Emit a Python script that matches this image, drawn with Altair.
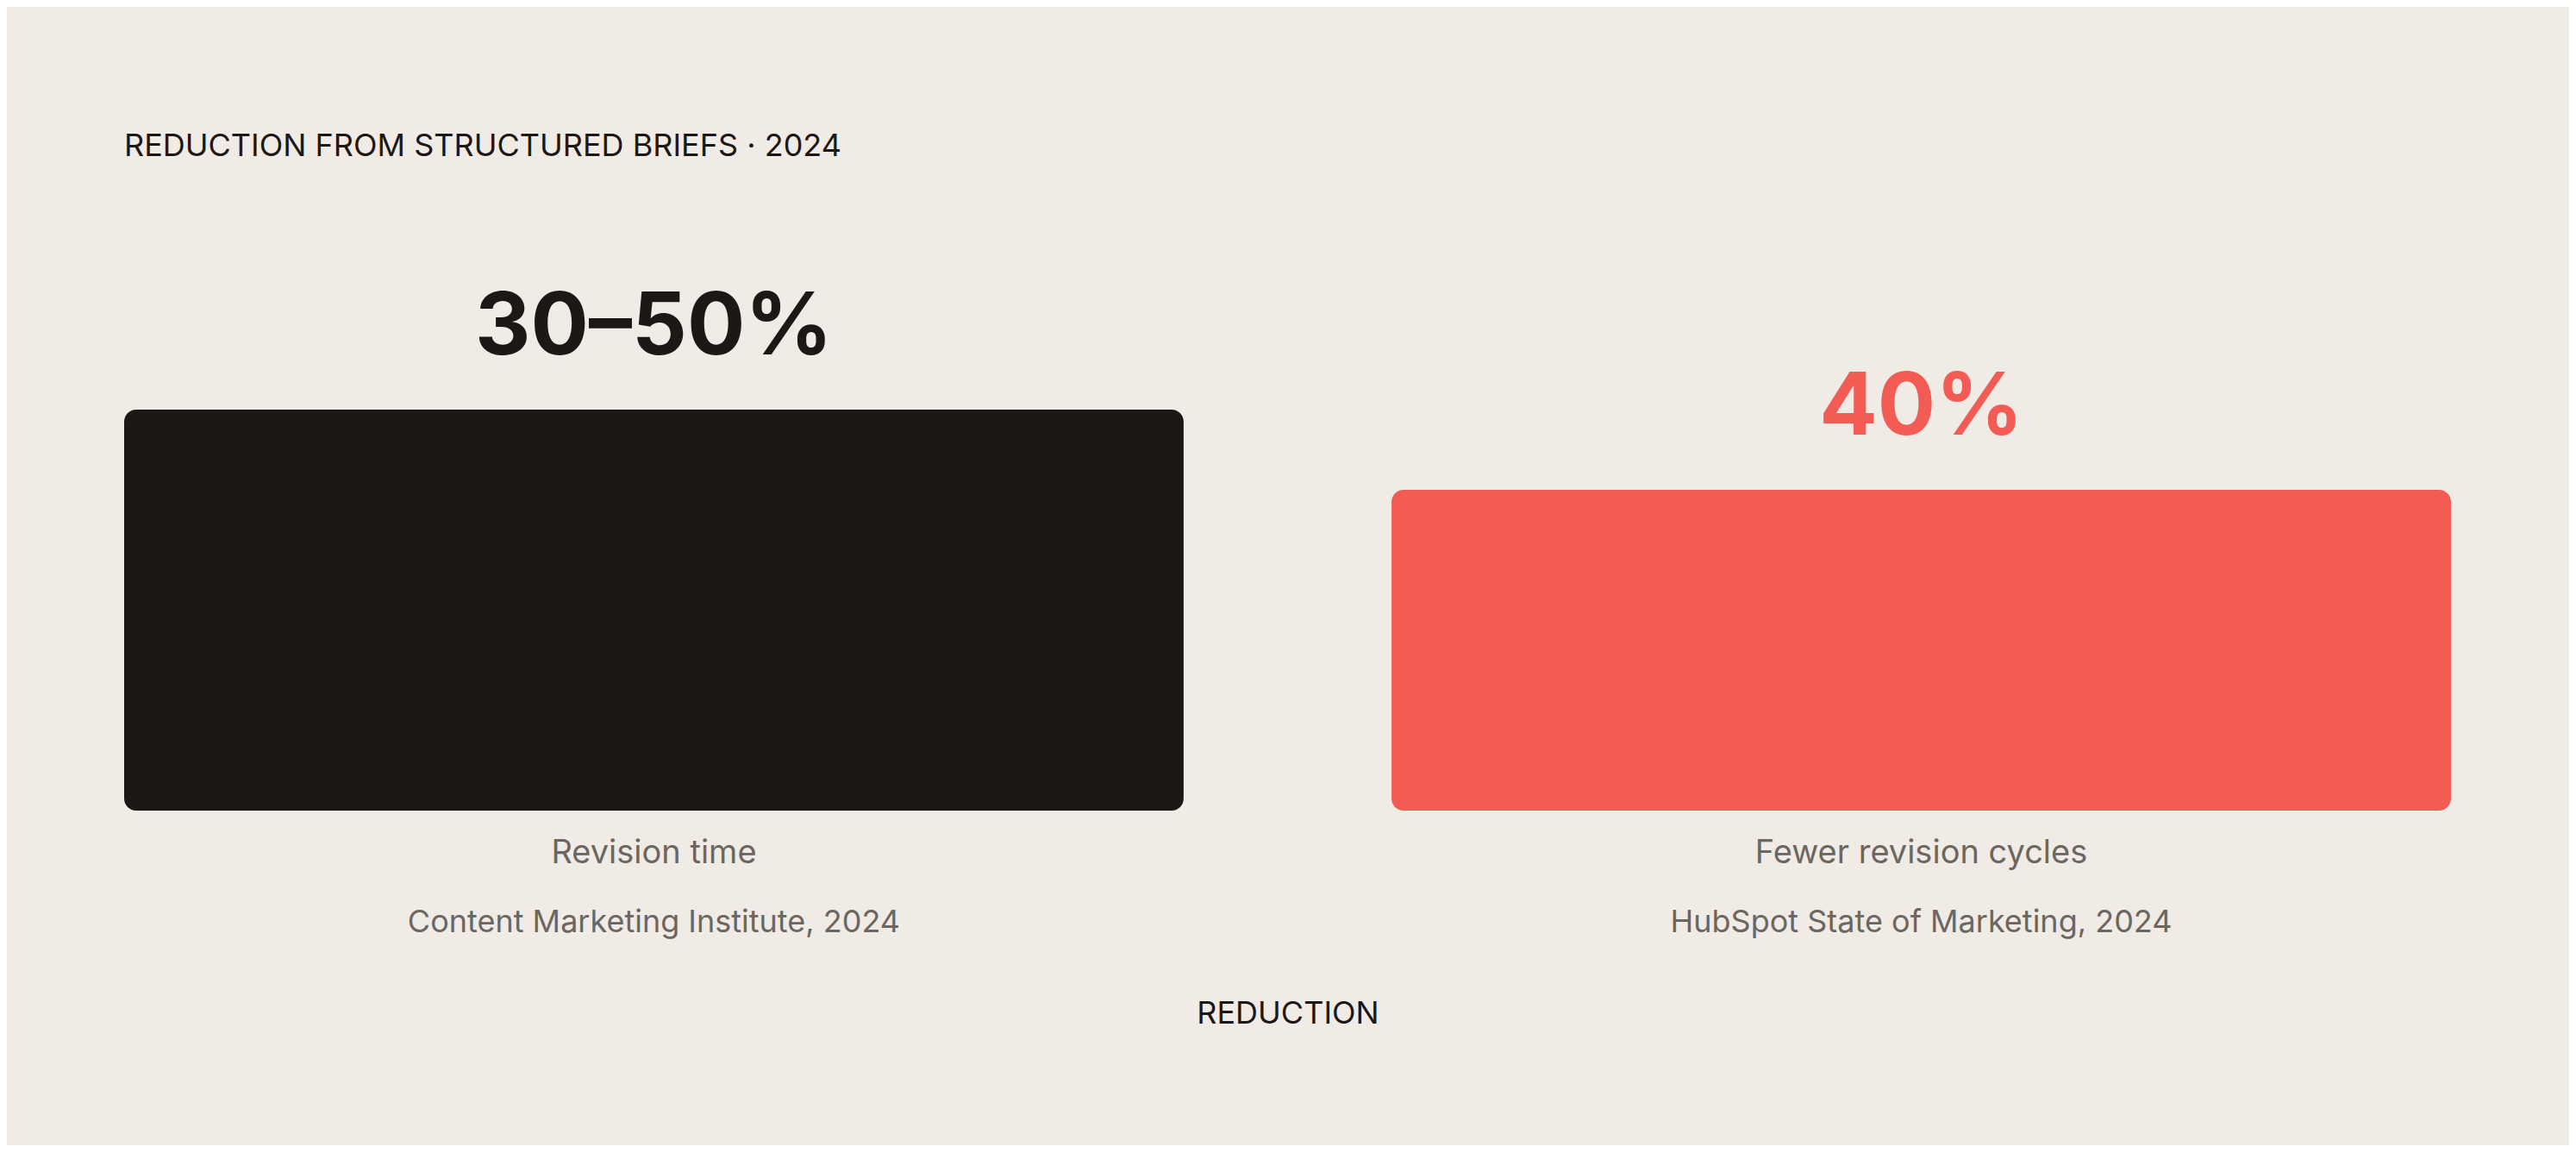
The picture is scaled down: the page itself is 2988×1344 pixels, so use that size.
import altair as alt
import pandas as pd

categories = ["Revision time", "Fewer revision cycles"]
values = [50, 40]
value_labels = ["30–50%", "40%"]
sources = ["Content Marketing Institute, 2024", "HubSpot State of Marketing, 2024"]
colors = ["#1C1815", "#F25C54"]

df = pd.DataFrame({
    "category": categories,
    "value": values,
    "label": value_labels,
    "source": sources,
    "color": colors,
})

FONT = "Inter"
BG = "#F0EBE5"
INK = "#1C1815"
GREY = "#6B6660"

x = alt.X(
    "category:N",
    sort=categories,
    scale=alt.Scale(paddingInner=0.164, paddingOuter=0),
    axis=alt.Axis(
        title="REDUCTION",
        labelAngle=0,
        labelFontSize=38,
        labelColor=GREY,
        labelFont=FONT,
        labelPadding=30,
        labelLimit=0,
        ticks=False,
        domain=False,
        titleFont=FONT,
        titleFontSize=36,
        titleFontWeight="normal",
        titleColor=INK,
        titlePadding=150,
    ),
)
y = alt.Y("value:Q", scale=alt.Scale(domain=[0, 50], nice=False, zero=True), axis=None)
color = alt.Color("color:N", scale=None, legend=None)

base = alt.Chart(df)

bars = base.mark_bar(cornerRadius=14).encode(x=x, y=y, color=color)

value_text = base.mark_text(
    font=FONT, fontSize=100, fontWeight="bold", baseline="alphabetic", dy=-64
).encode(x=x, y=y, text="label:N", color=color)

source_text = base.mark_text(
    font=FONT, fontSize=36, color=GREY, baseline="alphabetic", dy=141
).encode(x=x, y=alt.datum(0), text="source:N")

chart = (
    alt.layer(bars, value_text, source_text)
    .properties(
        width=2699,
        height=465,
        background=BG,
        padding={"left": 136, "right": 137, "top": 144, "bottom": 135},
        title=alt.TitleParams(
            "REDUCTION FROM STRUCTURED BRIEFS · 2024",
            anchor="start",
            font=FONT,
            fontSize=36,
            fontWeight="normal",
            color=INK,
            offset=142,
        ),
    )
    .configure_view(stroke=None)
)

chart.save("out.html", embed_options={"renderer": "svg", "actions": False})
